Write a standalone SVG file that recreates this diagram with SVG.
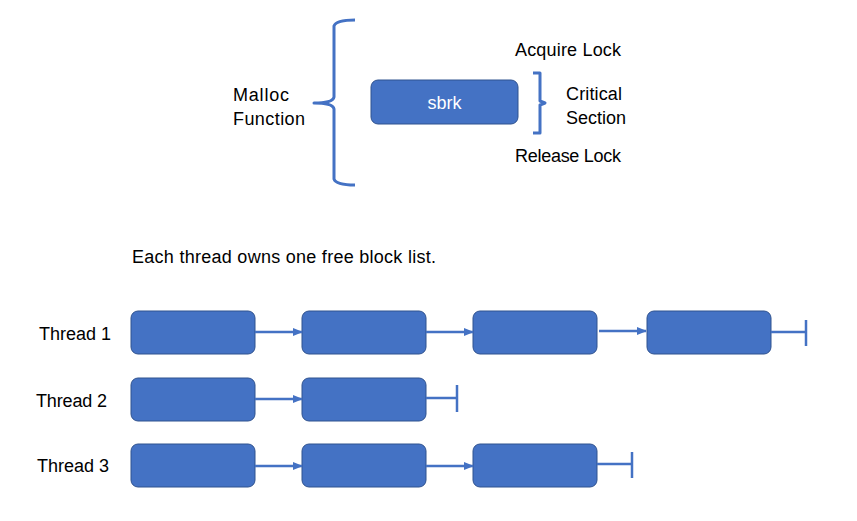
<svg xmlns="http://www.w3.org/2000/svg" width="857" height="521" viewBox="0 0 857 521">
<style>
.t{font-family:"Liberation Sans",Arial,sans-serif;font-size:18px;fill:#000}
.w{fill:#fff}
.box{fill:#4472C4;stroke:#2F528F;stroke-width:1}
.c{fill:none;stroke:#4472C4;stroke-width:2.5}
.br{fill:none;stroke:#4472C4;stroke-width:3;stroke-linejoin:round}
</style>
<defs>
<marker id="ah" markerWidth="10" markerHeight="8" refX="9" refY="4" orient="auto" markerUnits="userSpaceOnUse">
<path d="M0,0 L10,4 L0,8 Z" fill="#4472C4"/>
</marker>
</defs>
<rect width="857" height="521" fill="#fff"/>
<g id="malloc-label"><text class="t" x="233" y="101" textLength="56">Malloc</text><text class="t" x="233" y="125" textLength="72">Function</text></g>
<g id="brace-malloc"><path class="br" d="M355,20 Q336,20 334,26 L334,97 Q333,103 314,103 Q333,103 334,109 L334,179 Q336,185 355,185"/></g>
<g id="sbrk"><rect class="box" x="371" y="80" width="147" height="44" rx="7"/><text class="t w" x="444.5" y="109" text-anchor="middle">sbrk</text></g>
<g id="brace-critical"><path class="br" d="M533,73 L540,73 L540,101 L545,103 L540,105 L540,133 L533,133"/></g>
<g id="acquire"><text class="t" x="515" y="56" textLength="106">Acquire Lock</text></g>
<g id="critical"><text class="t" x="566" y="100" textLength="56">Critical</text><text class="t" x="566" y="124" textLength="60">Section</text></g>
<g id="release"><text class="t" x="515" y="162" textLength="106">Release Lock</text></g>
<g id="caption"><text class="t" x="132" y="263" textLength="304">Each thread owns one free block list.</text></g>
<g id="thread1-label"><text class="t" x="39" y="340" textLength="72">Thread 1</text></g>
<g id="thread2-label"><text class="t" x="36" y="407" textLength="71">Thread 2</text></g>
<g id="thread3-label"><text class="t" x="37" y="472" textLength="72">Thread 3</text></g>
<g id="t1b1"><rect class="box" x="131" y="311" width="124" height="43" rx="7"/></g>
<g id="t1b2"><rect class="box" x="302" y="311" width="124" height="43" rx="7"/></g>
<g id="t1b3"><rect class="box" x="473" y="311" width="124" height="43" rx="7"/></g>
<g id="t1b4"><rect class="box" x="647" y="311" width="124" height="43" rx="7"/></g>
<g id="t2b1"><rect class="box" x="131" y="378" width="124" height="43" rx="7"/></g>
<g id="t2b2"><rect class="box" x="302" y="378" width="124" height="43" rx="7"/></g>
<g id="t3b1"><rect class="box" x="131" y="444" width="124" height="43" rx="7"/></g>
<g id="t3b2"><rect class="box" x="302" y="444" width="124" height="43" rx="7"/></g>
<g id="t3b3"><rect class="box" x="473" y="444" width="124" height="43" rx="7"/></g>
<g id="connectors">
<line class="c" x1="255" y1="332" x2="302" y2="332" marker-end="url(#ah)"/>
<line class="c" x1="426" y1="332" x2="473" y2="332" marker-end="url(#ah)"/>
<line class="c" x1="599" y1="331" x2="646" y2="331" marker-end="url(#ah)"/>
<line class="c" x1="771" y1="332" x2="806" y2="332"/>
<line class="c" x1="806" y1="320" x2="806" y2="346"/>
<line class="c" x1="255" y1="399" x2="302" y2="399" marker-end="url(#ah)"/>
<line class="c" x1="426" y1="398" x2="457" y2="398"/>
<line class="c" x1="457" y1="385" x2="457" y2="412"/>
<line class="c" x1="255" y1="466" x2="302" y2="466" marker-end="url(#ah)"/>
<line class="c" x1="426" y1="466" x2="473" y2="466" marker-end="url(#ah)"/>
<line class="c" x1="597" y1="464" x2="632" y2="464"/>
<line class="c" x1="632" y1="452" x2="632" y2="478"/>
</g>
</svg>
